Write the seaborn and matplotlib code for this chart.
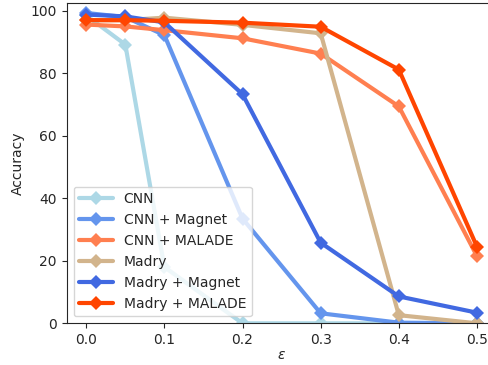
import matplotlib
matplotlib.use("Agg")
import matplotlib.pyplot as plt
import seaborn as sns
import pandas as pd

eps = [0.0, 0.05, 0.1, 0.2, 0.3, 0.4, 0.5]
series_names = ["CNN", "CNN + Magnet", "CNN + MALADE", "Madry", "Madry + Magnet", "Madry + MALADE"]
cnn = [98.5, 89.2, 18.0, 0.0, 0.0, 0.0, 0.0]
cnn_magnet = [99.3, 98.0, 92.2, 33.5, 3.2, 0.2, 0.0]
cnn_malade = [95.6, 95.0, 93.8, 91.2, 86.3, 69.4, 21.5]
madry = [97.0, 97.0, 97.8, 95.5, 92.8, 2.6, 0.0]
madry_magnet = [98.8, 98.2, 96.3, 73.3, 25.8, 8.6, 3.4]
madry_malade = [97.0, 97.0, 96.8, 96.2, 94.9, 81.2, 24.5]
colors = ["lightblue", "cornflowerblue", "coral", "tan", "royalblue", "orangered"]

values = [cnn, cnn_magnet, cnn_malade, madry, madry_magnet, madry_malade]
rows = []
for name, vals in zip(series_names, values):
    for e, v in zip(eps, vals):
        rows.append({"eps": e, "acc": v, "model": name})
df = pd.DataFrame(rows)

sns.set_style("ticks")
plt.rcParams['font.family'] = ['DejaVu Sans']
fig = plt.figure(figsize=(4.89, 3.65), dpi=100)
ax = fig.add_axes([66.7/489, (365-323.3)/365, (496.5-66.7)/489, 320/365])
sns.lineplot(data=df, x="eps", y="acc", hue="model", hue_order=series_names,
             palette=colors, marker="D", markersize=7, markeredgewidth=0,
             linewidth=3, dashes=False, ax=ax)
ax.set_xlim(-0.025, 0.525)
ax.set_ylim(0, 102.4)
ax.set_xticks([0.0, 0.1, 0.2, 0.3, 0.4, 0.5])
ax.set_yticks([0, 20, 40, 60, 80, 100])
ax.set_xlabel(r"$\epsilon$", labelpad=1)
ax.set_ylabel("Accuracy")
ax.legend(loc="lower left", fontsize=10, framealpha=0.8, handlelength=2.4)
fig.savefig("out.png", dpi=100)
